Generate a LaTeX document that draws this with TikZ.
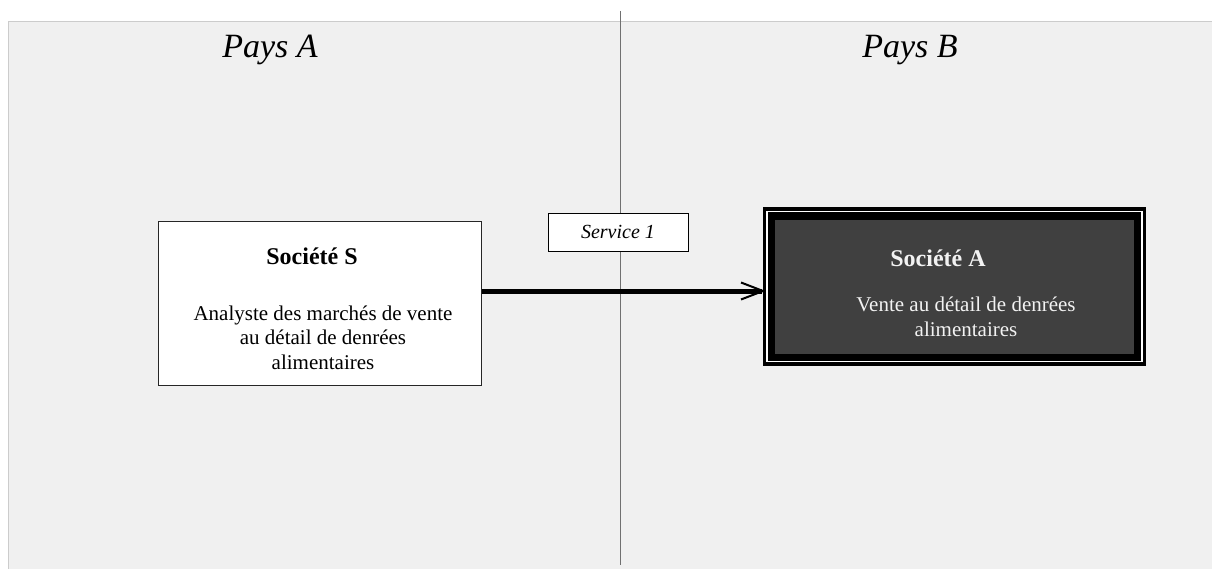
\documentclass[tikz,border=0pt]{standalone}
\usepackage{fontspec}
\setmainfont{Liberation Serif}
\usetikzlibrary{arrows.meta,calc}
\definecolor{panel}{HTML}{F0F0F0}
\definecolor{paneledge}{HTML}{CCCCCC}
\definecolor{divider}{HTML}{707070}
\definecolor{darkfill}{HTML}{404040}
\definecolor{lighttext}{HTML}{F2F2F2}
\tikzset{
  country/.style={font=\fontsize{34}{40}\selectfont\itshape, anchor=base},
  firmbox/.style={draw=black!85, line width=1pt, fill=white, minimum width=323pt, minimum height=163pt, inner sep=0pt},
  mainbox/.style={fill=black, minimum width=383pt, minimum height=158pt, inner sep=0pt},
  title/.style={font=\fontsize{24}{28}\selectfont\bfseries, anchor=base},
  body/.style={font=\fontsize{21}{24.5}\selectfont, anchor=base, align=center},
  tag/.style={draw=black, line width=0.8pt, fill=white, minimum width=140pt, minimum height=38pt, inner sep=0pt, font=\fontsize{20}{24}\selectfont\itshape},
  flow/.style={line width=5pt, -{Straight Barb[length=22pt,width=17pt,line width=2pt]}}
}
\begin{document}
\begin{tikzpicture}[x=1pt,y=-1pt]
\useasboundingbox (0,0) rectangle (1212,569);
% background panel
\fill[panel] (8.5,21.5) rectangle (1212,569);
\draw[paneledge, line width=1.5pt] (8.5,569) -- (8.5,21.5) -- (1212,21.5);
% border between the two countries
\coordinate (dtop) at (620,11);
\coordinate (dbot) at (620,565);
\draw[divider, line width=1pt] (dtop) -- (dbot);
% country headings
\node[country] (pa) at (270,58) {Pays A};
\node[country] (pb) at (910,58) {Pays B};
% company S (multi-line text is anchored on its last baseline)
\node[firmbox] (s) at (319.5,303.5) {};
\node[title] (st) at (312,265) {Société S};
\node[body] (sb) at (323,369) {Analyste des marchés de vente\\au détail de denrées\\alimentaires};
% company A
\node[mainbox] (a) at (954.5,286.5) {};
\draw[white, line width=1.2pt] ($(a.north west)+(4.2,4.2)$) rectangle ($(a.south east)+(-4.2,-4.2)$);
\fill[darkfill] ($(a.north west)+(12.5,12.5)$) rectangle ($(a.south east)+(-12,-12)$);
\node[title, text=lighttext] (at) at (938,266) {Société A};
\node[body, text=lighttext] (ab) at (966,336) {Vente au détail de denrées\\alimentaires};
% service flow
\coordinate (from) at ($(s.east)+(0,-12.5)$);
\coordinate (to) at ($(a.west)+(3,4.5)$);
\draw[flow] (from) -- (to);
\node[tag] (svc) at (618,232) {Service 1};
\end{tikzpicture}
\end{document}
